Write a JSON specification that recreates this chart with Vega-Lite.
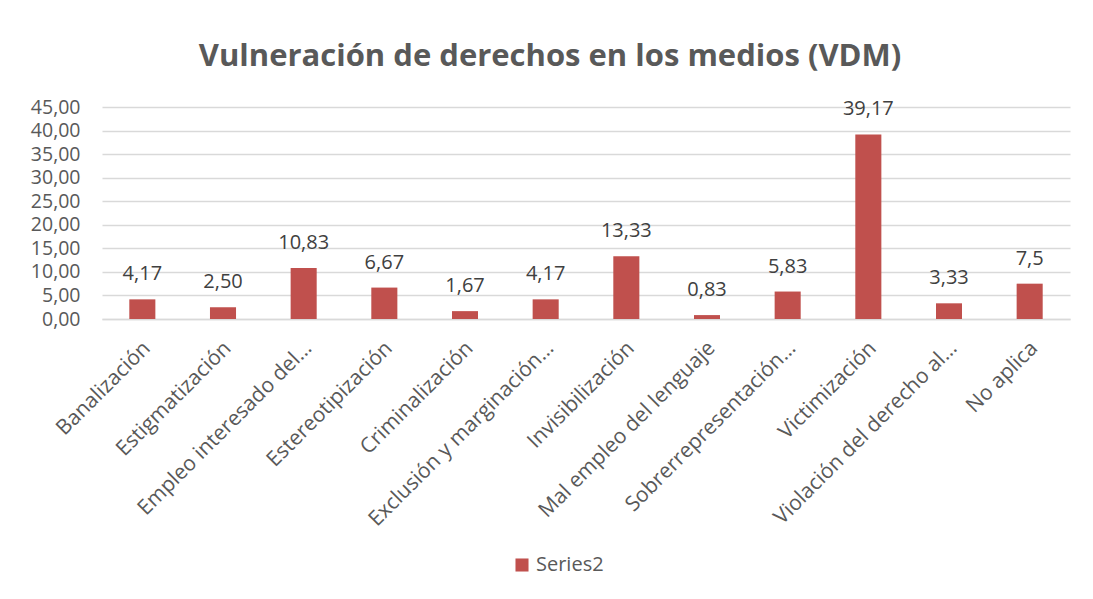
{
  "$schema": "https://vega.github.io/schema/vega-lite/v6.json",
  "autosize": {"type": "none"},
  "width": 968,
  "height": 212,
  "padding": {"left": 102, "top": 107, "right": 23, "bottom": 280},
  "background": "white",
  "title": {
    "text": "Vulneración de derechos en los medios (VDM)",
    "font": "Open Sans",
    "fontSize": 31,
    "fontWeight": "bold",
    "color": "#595959",
    "anchor": "middle",
    "frame": "group",
    "dx": -36,
    "baseline": "alphabetic",
    "offset": 0
  },
  "data": {
    "values": [
      {"categoria": "Banalización", "valor": 4.17, "etiqueta": "4,17", "serie": "Series2"},
      {"categoria": "Estigmatización", "valor": 2.50, "etiqueta": "2,50", "serie": "Series2"},
      {"categoria": "Empleo interesado del…", "valor": 10.83, "etiqueta": "10,83", "serie": "Series2"},
      {"categoria": "Estereotipización", "valor": 6.67, "etiqueta": "6,67", "serie": "Series2"},
      {"categoria": "Criminalización", "valor": 1.67, "etiqueta": "1,67", "serie": "Series2"},
      {"categoria": "Exclusión y marginación…", "valor": 4.17, "etiqueta": "4,17", "serie": "Series2"},
      {"categoria": "Invisibilización", "valor": 13.33, "etiqueta": "13,33", "serie": "Series2"},
      {"categoria": "Mal empleo del lenguaje", "valor": 0.83, "etiqueta": "0,83", "serie": "Series2"},
      {"categoria": "Sobrerrepresentación…", "valor": 5.83, "etiqueta": "5,83", "serie": "Series2"},
      {"categoria": "Victimización", "valor": 39.17, "etiqueta": "39,17", "serie": "Series2"},
      {"categoria": "Violación del derecho al…", "valor": 3.33, "etiqueta": "3,33", "serie": "Series2"},
      {"categoria": "No aplica", "valor": 7.5, "etiqueta": "7,5", "serie": "Series2"}
    ]
  },
  "encoding": {
    "x": {
      "field": "categoria",
      "type": "nominal",
      "sort": null,
      "scale": {"paddingInner": 0.677, "paddingOuter": 0.3385},
      "axis": {
        "title": null,
        "labelAngle": -45,
        "labelAlign": "right",
        "labelBaseline": "top",
        "labelFont": "Open Sans",
        "labelFontSize": 21,
        "labelColor": "#595959",
        "labelPadding": 18,
        "labelOffset": -3,
        "labelLimit": 400,
        "ticks": false,
        "domain": true,
        "domainColor": "#d9d9d9",
        "domainWidth": 1.5,
        "grid": false
      }
    },
    "y": {
      "field": "valor",
      "type": "quantitative",
      "scale": {"domain": [0, 45], "nice": false},
      "axis": {
        "title": null,
        "values": [0, 5, 10, 15, 20, 25, 30, 35, 40, 45],
        "labelExpr": "replace(format(datum.value, '.2f'), '.', ',')",
        "labelFont": "Open Sans",
        "labelFontSize": 19.5,
        "labelColor": "#595959",
        "labelPadding": 22,
        "ticks": false,
        "domain": false,
        "grid": true,
        "gridColor": "#d9d9d9",
        "gridWidth": 1.5
      }
    }
  },
  "layer": [
    {
      "mark": {"type": "bar", "stroke": null},
      "encoding": {
        "color": {
          "field": "serie",
          "type": "nominal",
          "scale": {"range": ["#C0504D"]},
          "legend": {
            "title": null,
            "orient": "none",
            "legendX": 410,
            "legendY": 448,
            "symbolType": "square",
            "symbolSize": 170,
            "symbolStrokeWidth": 0,
            "labelFont": "Open Sans",
            "labelFontSize": 20,
            "labelColor": "#595959",
            "labelOffset": 4,
            "padding": 0
          }
        }
      }
    },
    {
      "mark": {
        "type": "text",
        "font": "Open Sans",
        "fontSize": 20,
        "color": "#404040",
        "baseline": "alphabetic",
        "dy": -19
      },
      "encoding": {
        "text": {"field": "etiqueta", "type": "nominal"}
      }
    }
  ],
  "config": {
    "view": {"stroke": null}
  }
}
